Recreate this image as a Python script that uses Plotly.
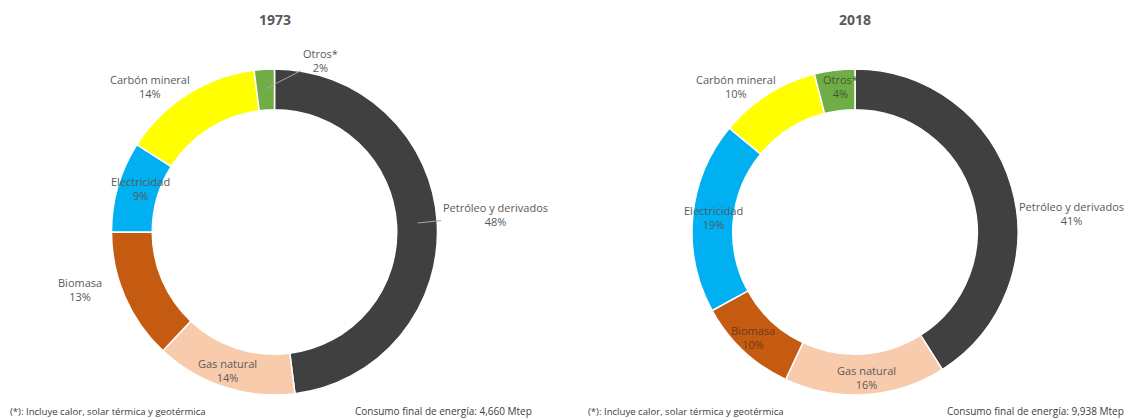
import math
import plotly.graph_objects as go

W, H = 1129, 419

categories = ["Petróleo y derivados", "Gas natural", "Biomasa", "Electricidad", "Carbón mineral", "Otros*"]
values_1973 = [48, 14, 13, 9, 14, 2]
values_2018 = [41, 16, 10, 19, 10, 4]
colors = ["#404040", "#F8CBAD", "#C55A11", "#00B0F0", "#FFFF00", "#70AD47"]
years = ["1973", "2018"]
footnote = "(*): Incluye calor, solar térmica y geotérmica"
totals = ["4,660", "9,938"]

TXT = "#595959"
FONT = "Open Sans"

# pie geometry (pixels)
centers = [(274.5, 232), (855, 232)]
R = 163


def px2paper(x, y):
    return x / W, 1 - y / H


fig = go.Figure()
for (cx, cy), vals in zip(centers, [values_1973, values_2018]):
    x0, y0 = px2paper(cx - R, cy + R)
    x1, y1 = px2paper(cx + R, cy - R)
    fig.add_trace(go.Pie(
        labels=categories, values=vals, sort=False, direction="clockwise",
        rotation=0, hole=0.75, textinfo="none",
        marker=dict(colors=colors, line=dict(color="white", width=1.5)),
        domain=dict(x=[x0, x1], y=[y0, y1]), showlegend=False,
    ))

# label placement (pixel centres) per chart, in category order
label_pos = [
    [(495, 215), (227, 370), (80, 289), (140, 189), (150, 86), (320, 61)],
    [(1071, 213), (866, 377), (753, 337), (713, 217), (736, 86), (840, 86)],
]
label_col = [
    [TXT, TXT, TXT, TXT, TXT, TXT],
    [TXT, TXT, "#6b3a1a", "#4d5a66", TXT, "#3f5a30"],
]
leaders = [[0, 5], []]
LBL = 11

annotations = []
for k, vals in enumerate([values_1973, values_2018]):
    cx, cy = centers[k]
    cum = 0
    for i, (cat, v) in enumerate(zip(categories, vals)):
        mid = (cum + v / 2) / sum(vals) * 2 * math.pi
        cum += v
        tx, ty = label_pos[k][i]
        text = f"{cat}<br>{v}%"
        if i in leaders[k]:
            rr = 0.88 * R
            px_ = cx + rr * math.sin(mid)
            py_ = cy - rr * math.cos(mid)
            xp, yp = px2paper(px_, py_)
            annotations.append(dict(
                x=xp, y=yp, xref="paper", yref="paper", text=text,
                showarrow=True, arrowhead=0, arrowwidth=1, arrowcolor="#A6A6A6",
                ax=tx - px_, ay=ty - py_, font=dict(family=FONT, size=LBL, color=label_col[k][i]),
                align="center", standoff=0,
            ))
        else:
            xp, yp = px2paper(tx, ty)
            annotations.append(dict(
                x=xp, y=yp, xref="paper", yref="paper", text=text, showarrow=False,
                xanchor="center", yanchor="middle", align="center",
                font=dict(family=FONT, size=LBL, color=label_col[k][i]),
            ))

# titles
for (cx, cy), yr in zip(centers, years):
    xp, yp = px2paper(cx, 20)
    annotations.append(dict(x=xp, y=yp, xref="paper", yref="paper", text=f"<b>{yr}</b>",
                            showarrow=False, xanchor="center", yanchor="middle",
                            font=dict(family=FONT, size=14, color=TXT)))

# footnotes
for fx, tx_, tot in [(8, 353, totals[0]), (586, 945, totals[1])]:
    xp, yp = px2paper(fx, 411)
    annotations.append(dict(x=xp, y=yp, xref="paper", yref="paper", text=footnote,
                            showarrow=False, xanchor="left", yanchor="middle",
                            font=dict(family=FONT, size=9.6, color="#404040")))
    xp, yp = px2paper(tx_, 411)
    annotations.append(dict(x=xp, y=yp, xref="paper", yref="paper",
                            text=f"Consumo final de energía: {tot} Mtep",
                            showarrow=False, xanchor="left", yanchor="middle",
                            font=dict(family=FONT, size=10, color="#404040")))

fig.update_layout(
    width=W, height=H, margin=dict(l=0, r=0, t=0, b=0),
    paper_bgcolor="white", plot_bgcolor="white",
    annotations=annotations,
)
fig.write_html("out.html")
